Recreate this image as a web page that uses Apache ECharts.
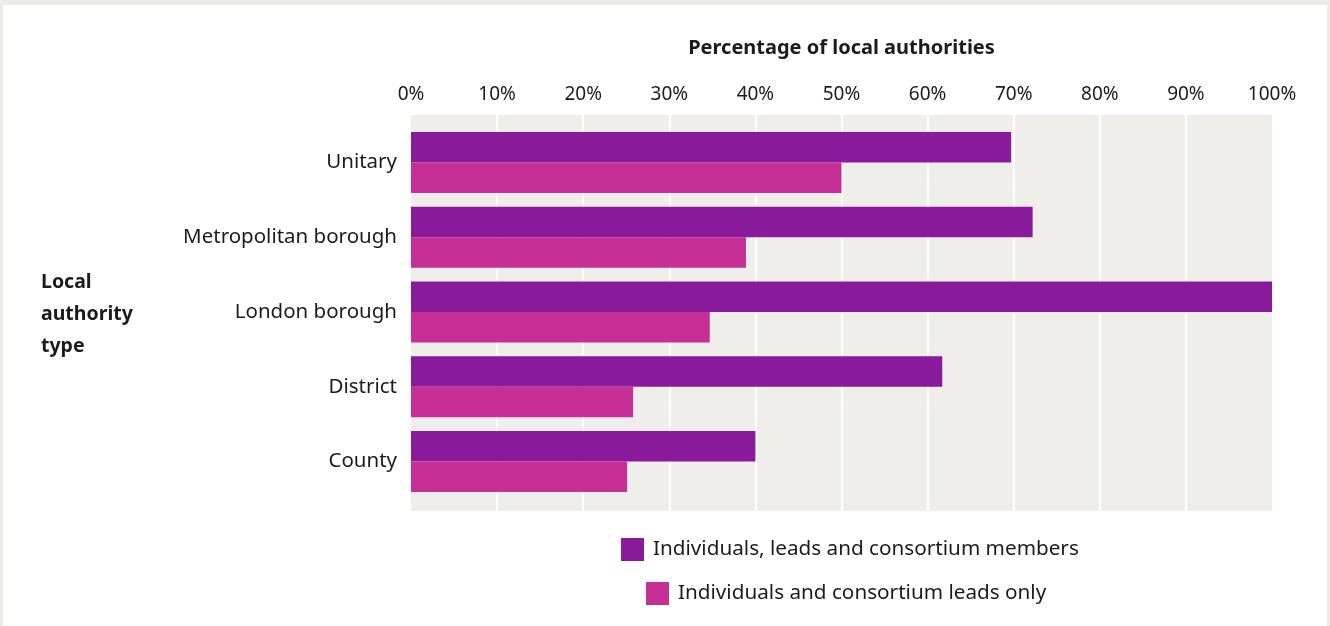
<!DOCTYPE html>
<html>
<head>
<meta charset="utf-8">
<title>Local authority participation</title>
<script src="https://cdn.jsdelivr.net/npm/echarts@6/dist/echarts.min.js"></script>
<style>
  html, body { margin: 0; padding: 0; background: #eeebe6; }
  #chart { position: absolute; left: 3px; top: 5px; width: 1324px; height: 621px; background: #ffffff; }
</style>
</head>
<body>
<div id="chart"></div>
<script>
// Local authority types, top to bottom
const categories = ['Unitary', 'Metropolitan borough', 'London borough', 'District', 'County'];
// Share of local authorities (%)
const membersValues = [69.7, 72.2, 100, 61.7, 40];
const leadsValues = [50, 38.9, 34.7, 25.8, 25.1];
const seriesNames = ['Individuals, leads and consortium members', 'Individuals and consortium leads only'];
const tickStep = 10;

const FONT = 'Noto Sans';
const INK = '#1b1b1b';
const PURPLE = '#881a9b';
const MAGENTA = '#c52f96';

const chart = echarts.init(document.getElementById('chart'), null, { renderer: 'canvas' });

const legendBase = {
  orient: 'vertical', padding: 0,
  icon: 'rect', itemWidth: 23, itemHeight: 23,
  textStyle: { fontFamily: FONT, fontSize: 20.7, color: INK, padding: [0, 0, 0, 4] },
  selectedMode: false
};

chart.setOption({
  animation: false,
  textStyle: { fontFamily: FONT, color: INK },
  grid: [
    // panel with background and vertical guides
    { left: 408, right: 55, top: 110, height: 396, show: true, backgroundColor: '#f0eeeb', borderWidth: 0 },
    // bars
    { left: 408, right: 55, top: 120, height: 374 }
  ],
  xAxis: [
    {
      gridIndex: 0, type: 'value', position: 'top', min: 0, max: 100, interval: tickStep,
      name: 'Percentage of local authorities', nameLocation: 'middle', nameGap: 57,
      nameTextStyle: { fontFamily: FONT, fontSize: 20, fontWeight: 'bold', color: INK },
      axisLine: { show: false }, axisTick: { show: false },
      axisLabel: { formatter: '{value}%', fontSize: 19, color: INK, margin: 11 },
      splitLine: { show: true, showMinLine: false, showMaxLine: false, lineStyle: { color: '#ffffff', width: 2 } }
    },
    {
      gridIndex: 1, type: 'value', min: 0, max: 100, show: false
    }
  ],
  yAxis: [
    { gridIndex: 0, type: 'value', show: false },
    {
      gridIndex: 1, type: 'category', data: categories, inverse: true,
      axisLine: { show: false }, axisTick: { show: false },
      axisLabel: { fontSize: 20.5, color: INK, margin: 14 },
      splitLine: { show: false }
    }
  ],
  legend: [
    Object.assign({ data: [seriesNames[0]], left: 618, top: 533 }, legendBase),
    Object.assign({ data: [seriesNames[1]], left: 643, top: 577 }, legendBase)
  ],
  graphic: [
    {
      type: 'text', left: 38, top: 261,
      style: {
        text: 'Local\nauthority\ntype',
        fontFamily: FONT, fontSize: 19.5, fontWeight: 'bold', lineHeight: 32, fill: INK
      }
    }
  ],
  series: [
    {
      name: seriesNames[0], type: 'bar', xAxisIndex: 1, yAxisIndex: 1,
      data: membersValues, barWidth: 30.5, barGap: '0%',
      itemStyle: { color: PURPLE }
    },
    {
      name: seriesNames[1], type: 'bar', xAxisIndex: 1, yAxisIndex: 1,
      data: leadsValues, barWidth: 30.5, barGap: '0%',
      itemStyle: { color: MAGENTA }
    }
  ]
});
</script>
</body>
</html>
